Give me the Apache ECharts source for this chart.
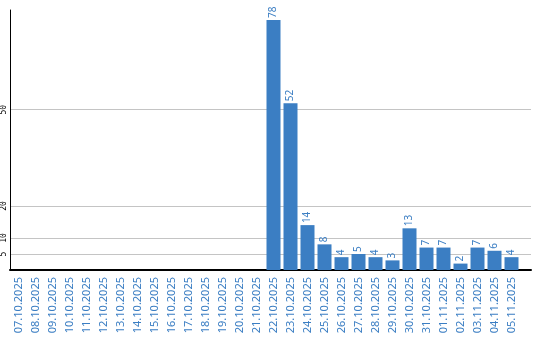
<!DOCTYPE html>
<html>
<head>
<meta charset="utf-8">
<script src="https://cdn.jsdelivr.net/npm/echarts@6/dist/echarts.min.js"></script>
<style>html,body{margin:0;padding:0;background:#fff}#c{width:540px;height:340px}</style>
</head>
<body>
<div id="c"></div>
<script>
var categories = ["07.10.2025","08.10.2025","09.10.2025","10.10.2025","11.10.2025","12.10.2025","13.10.2025","14.10.2025","15.10.2025","16.10.2025","17.10.2025","18.10.2025","19.10.2025","20.10.2025","21.10.2025","22.10.2025","23.10.2025","24.10.2025","25.10.2025","26.10.2025","27.10.2025","28.10.2025","29.10.2025","30.10.2025","31.10.2025","01.11.2025","02.11.2025","03.11.2025","04.11.2025","05.11.2025"];
var values = [0,0,0,0,0,0,0,0,0,0,0,0,0,0,0,78,52,14,8,4,5,4,3,13,7,7,2,7,6,4];
var yTicks = [5,10,20,50];
var yMax = 81.1;

var blue = '#3b7ec3';
var chart = echarts.init(document.getElementById('c'), null, {renderer:'canvas'});
chart.setOption({
  animation:false,
  grid:[
    {left:10, top:10, width:521, height:260},
    {left:10, top:10, width:510, height:260}
  ],
  xAxis:[
    {gridIndex:0, type:'value', min:0, max:1, axisLabel:{show:false}, axisTick:{show:false}, splitLine:{show:false},
     axisLine:{show:true, onZero:false, lineStyle:{color:'#000', width:2}}},
    {gridIndex:1, type:'category', data:categories, axisLine:{show:false}, axisTick:{show:false},
     axisLabel:{rotate:90, interval:0, margin:7, color:blue, fontFamily:'Noto Sans', fontSize:11}}
  ],
  yAxis:[
    {gridIndex:0, type:'value', min:0, max:yMax,
     axisLine:{show:true, lineStyle:{color:'#000', width:1}},
     axisTick:{show:false, customValues:yTicks},
     axisLabel:{customValues:yTicks, rotate:90, margin:2, color:'#000', fontFamily:'DejaVu Sans Mono', fontSize:8},
     splitLine:{show:true, lineStyle:{color:'#c4c4c4', width:1}}},
    {gridIndex:1, type:'value', min:0, max:yMax, show:false, splitLine:{show:false}}
  ],
  series:[{
    type:'bar', xAxisIndex:1, yAxisIndex:1, data:values, barWidth:14,
    itemStyle:{color:blue},
    label:{show:true, position:'top', rotate:90, align:'left', verticalAlign:'middle', distance:2,
      color:blue, fontFamily:'Noto Sans', fontSize:10,
      formatter:function(p){return p.value ? String(p.value) : '';}}
  }]
});
</script>
</body>
</html>
